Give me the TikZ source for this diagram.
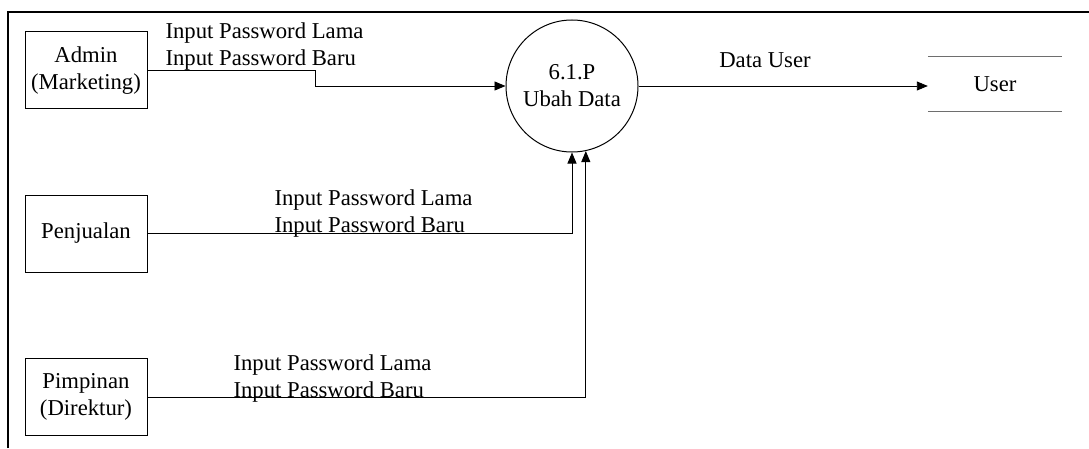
\documentclass[tikz,border=0pt]{standalone}
\usepackage{fontspec}
\setmainfont{Liberation Serif}
\usetikzlibrary{arrows.meta, positioning, calc}
\definecolor{DK}{RGB}{0,0,0}
\definecolor{GR}{RGB}{110,110,110}

\begin{document}
\begin{tikzpicture}[x=1pt, y=1pt,
  ent/.style={draw=DK, line width=1pt, minimum width=122pt, minimum height=77pt,
              align=center, inner sep=2pt},
  prc/.style={draw=DK, line width=1pt, circle, minimum size=132pt,
              align=center, inner sep=0pt},
  flow/.style={-{Triangle[length=11pt,width=9pt]}, line width=0.9pt, draw=DK},
  lbl/.style={anchor=base west, align=left},
  every node/.style={font=\fontsize{22.7}{27}\selectfont, text=DK}
]
\useasboundingbox (0,0) rectangle (1089,448);
\draw[line width=1.6pt] (8,0) -- (8,436) -- (1089,436);

\node[ent] (admin) at (86,377.5) {Admin\\(Marketing)};
\node[ent] (penj)  at (86,214.5) {Penjualan};
\node[ent] (pimp)  at (86,51)    {Pimpinan\\(Direktur)};
\node[prc] (proc)  at (572,362)  {6.1.P\\Ubah Data};
\node[minimum width=134pt, minimum height=54pt] (user) at (995,364) {User};
\draw[GR, line width=0.8pt] (user.north west) -- (user.north east)
  (user.south west) -- (user.south east);

\draw[flow] (admin.east) -- ++(168,0) |- (proc.west);
\node[lbl] (l1) at (162,382.5) {Input Password Lama\\Input Password Baru};
\draw[flow] (penj.east) -| (proc.south);
\node[lbl] (l2) at (271,215.5) {Input Password Lama\\Input Password Baru};
\draw[flow] (pimp.east) -| (proc.-78);
\node[lbl] (l3) at (230,51) {Input Password Lama\\Input Password Baru};
\draw[flow] (proc.east) -- (proc.east -| user.west);
\node[anchor=base] (l4) at (765,380.5) {Data User};
\end{tikzpicture}
\end{document}
